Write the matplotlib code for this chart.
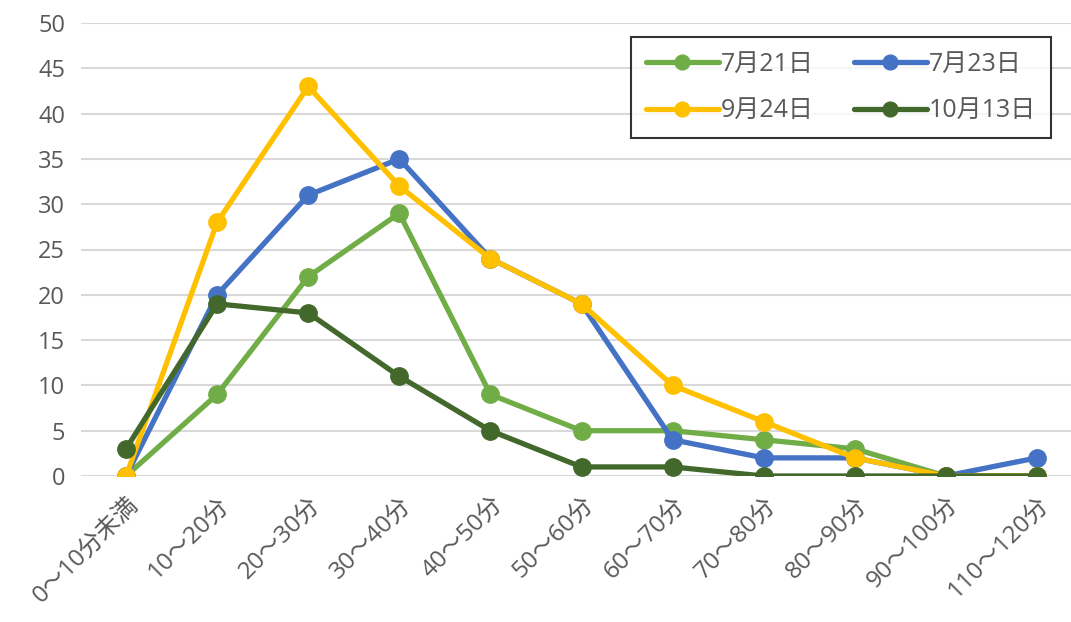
import matplotlib.pyplot as plt
import numpy as np

plt.rcParams["font.family"] = ["Open Sans", "Noto Sans CJK JP", "DejaVu Sans"]

categories = ["0～10分未満", "10～20分", "20～30分", "30～40分", "40～50分", "50～60分",
              "60～70分", "70～80分", "80～90分", "90～100分", "110～120分"]
jul21 = [0, 9, 22, 29, 9, 5, 5, 4, 3, 0, 0]
jul23 = [0, 20, 31, 35, 24, 19, 4, 2, 2, 0, 2]
sep24 = [0, 28, 43, 32, 24, 19, 10, 6, 2, 0, 0]
oct13 = [3, 19, 18, 11, 5, 1, 1, 0, 0, 0, 0]

series = [
    ("7月21日", jul21, "#70AD47"),
    ("7月23日", jul23, "#4472C4"),
    ("9月24日", sep24, "#FFC000"),
    ("10月13日", oct13, "#43682B"),
]

fig = plt.figure(figsize=(10.71, 6.22), dpi=100)
ax = fig.add_axes([80.5 / 1071, 146 / 622, 1002 / 1071, 453 / 622])

x = np.arange(len(categories))
handles = []
for label, vals, color in series:
    h, = ax.plot(x, vals, color=color, lw=3.8, marker="o", markersize=12.5,
                 label=label, solid_capstyle="round")
    handles.append(h)

ax.set_xlim(-0.5, len(categories) - 0.5)
ax.set_ylim(0, 50)
ax.set_yticks(np.arange(0, 51, 5))
ax.grid(axis="y", color="#D9D9D9", lw=1.5)
ax.set_axisbelow(True)
for s in ax.spines.values():
    s.set_visible(False)
ax.tick_params(length=0, labelsize=17, colors="#595959", pad=11)
ax.set_xticks(x)
ax.set_xticklabels(categories, rotation=45, ha="right", rotation_mode="anchor")
ax.tick_params(axis="x", pad=12, labelsize=17.5)

# legend filled row by row like the original
order = [0, 2, 1, 3]
leg = ax.legend([handles[i] for i in order], [series[i][0] for i in order],
                loc="upper left", bbox_to_anchor=(631 / 1071, 1 - 37 / 622),
                bbox_transform=fig.transFigure, ncol=2, fontsize=18,
                frameon=True, fancybox=False, edgecolor="black",
                handlelength=2.9, columnspacing=1.6, borderpad=0.6,
                labelspacing=0.85, handletextpad=0.1, markerscale=0.85,
                borderaxespad=0)
leg.get_frame().set_linewidth(1.5)
for t in leg.get_texts():
    t.set_color("#595959")

fig.savefig("out.png", dpi=100)
